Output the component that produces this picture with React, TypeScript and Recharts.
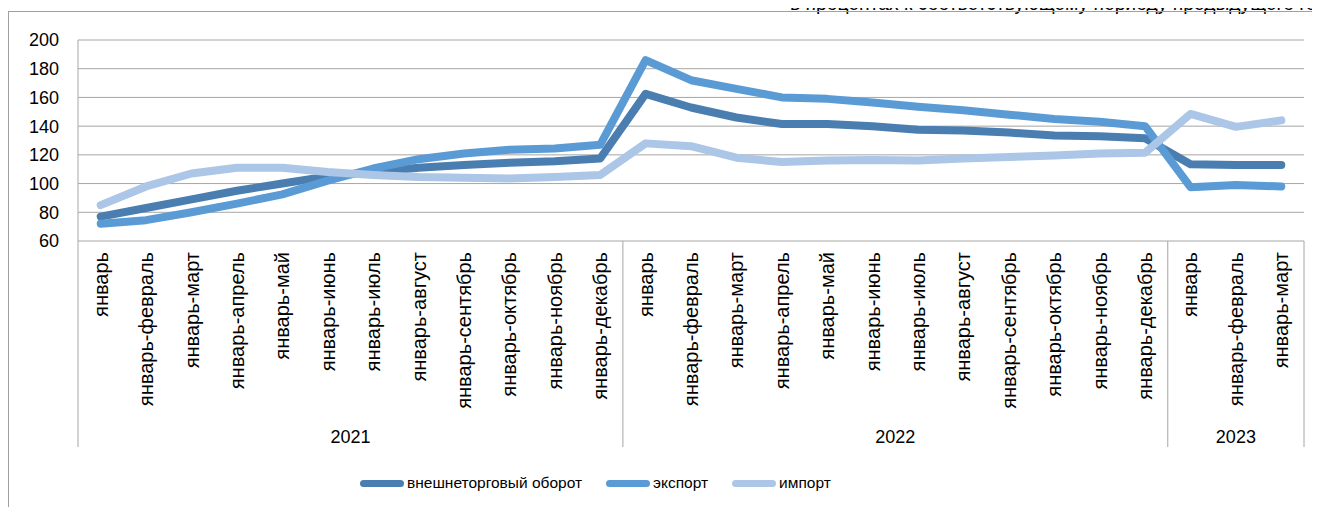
import React from "react";
import { LineChart, Line, XAxis, YAxis, CartesianGrid, Legend } from "recharts";

const MONTHS_2021 = [
  "январь", "январь-февраль", "январь-март", "январь-апрель", "январь-май", "январь-июнь",
  "январь-июль", "январь-август", "январь-сентябрь", "январь-октябрь", "январь-ноябрь", "январь-декабрь",
];
const MONTHS_2022 = [
  "январь", "январь-февраль", "январь-март", "январь-апрель", "январь-май", "январь-июнь",
  "январь-июль", "январь-август", "январь-сентябрь", "январь-октябрь", "январь-ноябрь", "январь-декабрь",
];
const MONTHS_2023 = ["январь", "январь-февраль", "январь-март"];
const YEARS = ["2021", "2022", "2023"];

const TURNOVER = [
  77, 83, 89, 95, 100, 105, 108, 111, 113, 114.5, 115.5, 117.5,
  162.5, 153, 146, 141.5, 141.5, 140, 137.5, 137, 135.5, 133.5, 133, 131.5,
  113.5, 113, 113,
];
const EXPORT = [
  72, 74.5, 80, 86, 92.5, 102, 110.5, 117, 121, 123.5, 124.5, 127,
  186, 172, 166, 160, 159, 156.5, 153.5, 151, 148, 145, 143, 140,
  97.5, 99, 98,
];
const IMPORT = [
  85, 98, 107, 111, 111, 108, 106, 104.5, 104, 103.5, 104.5, 106,
  128, 126, 118, 115, 116, 116.5, 116, 117.5, 118.5, 119.5, 121, 121.5,
  148.5, 139.5, 144,
];
const Y_TICKS = [60, 80, 100, 120, 140, 160, 180, 200];

const SERIES = [
  { key: "turnover", name: "внешнеторговый оборот", color: "#4a7eb0" },
  { key: "export", name: "экспорт", color: "#5b9bd5" },
  { key: "import", name: "импорт", color: "#abc6e6" },
] as const;

const GROUPS = [
  { year: YEARS[0], months: MONTHS_2021 },
  { year: YEARS[1], months: MONTHS_2022 },
  { year: YEARS[2], months: MONTHS_2023 },
];

const rows: any[] = [];
GROUPS.forEach((g) => {
  g.months.forEach((m) => {
    const i = rows.length;
    rows.push({
      id: `${g.year}-${i}`,
      label: m,
      turnover: TURNOVER[i],
      export: EXPORT[i],
      import: IMPORT[i],
    });
  });
});

// first index of every year group
const groupStarts: number[] = [];
let acc = 0;
GROUPS.forEach((g) => {
  groupStarts.push(acc);
  acc += g.months.length;
});

const AXIS_COLOR = "#a6a6a6";
const FONT = "'Liberation Sans', Arial, sans-serif";
const TICK_GAP = 11;
const PLOT_W = 1226;
const BAND = PLOT_W / rows.length;

function CategoryTick(props: any) {
  const { x, y, index } = props;
  const top = y - TICK_GAP;
  const g = groupStarts.indexOf(index);
  const isLast = index === rows.length - 1;
  return (
    <g>
      <text
        x={x}
        y={y}
        transform={`rotate(-90 ${x} ${y})`}
        textAnchor="end"
        dominantBaseline="central"
        fontSize={20}
        fill="#000"
        fontFamily={FONT}
      >
        {rows[index]?.label}
      </text>
      {g >= 0 && (
        <>
          <line x1={x - BAND / 2} x2={x - BAND / 2} y1={top} y2={top + 206} stroke={AXIS_COLOR} />
          <text
            x={x - BAND / 2 + (GROUPS[g].months.length * BAND) / 2}
            y={top + 196}
            textAnchor="middle"
            dominantBaseline="central"
            fontSize={18}
            fill="#000"
            fontFamily={FONT}
          >
            {GROUPS[g].year}
          </text>
        </>
      )}
      {isLast && (
        <line x1={x + BAND / 2} x2={x + BAND / 2} y1={top} y2={top + 206} stroke={AXIS_COLOR} />
      )}
    </g>
  );
}

function LegendContent() {
  return (
    <div style={{ display: "flex", alignItems: "center", fontFamily: FONT, fontSize: 15.5, color: "#000" }}>
      {SERIES.map((s) => (
        <div key={s.key} style={{ display: "flex", alignItems: "center", marginRight: 24 }}>
          <span
            style={{
              display: "inline-block",
              width: 44,
              height: 7,
              borderRadius: 4,
              background: s.color,
              marginRight: 3,
            }}
          />
          <span>{s.name}</span>
        </div>
      ))}
    </div>
  );
}

export default function App() {
  return (
    <div
      style={{
        position: "relative",
        margin: -8,
        width: 1320,
        height: 515,
        overflow: "hidden",
        background: "#fff",
        fontFamily: FONT,
      }}
    >
      <div
        style={{
          position: "absolute",
          left: 790,
          top: -6,
          fontSize: 19.3,
          lineHeight: "20px",
          whiteSpace: "nowrap",
          color: "#000",
        }}
      >
        в процентах к соответствующему периоду предыдущего года
      </div>
      <div
        style={{
          position: "absolute",
          left: 8,
          top: 11,
          width: 1400,
          height: 600,
          border: "1px solid #a0a0a0",
        }}
      />
      <div style={{ position: "absolute", left: 0, top: 0 }}>
        <LineChart
          width={1320}
          height={515}
          data={rows}
          margin={{ top: 40, right: 16, left: 8, bottom: 68 }}
        >
          <CartesianGrid vertical={false} stroke={AXIS_COLOR} />
          <XAxis
            dataKey="id"
            interval={0}
            height={206}
            padding={{ left: BAND / 2, right: BAND / 2 }}
            axisLine={false}
            tickLine={false}
            tickSize={0}
            tickMargin={TICK_GAP}
            tick={<CategoryTick />}
          />
          <YAxis
            domain={[60, 200]}
            ticks={Y_TICKS}
            interval={0}
            width={70}
            tickLine={false}
            tickSize={0}
            tickMargin={19}
            axisLine={{ stroke: AXIS_COLOR }}
            tick={{ fill: "#000", fontSize: 18, fontFamily: FONT }}
          />
          <Legend
            verticalAlign="middle"
            layout="horizontal"
            content={<LegendContent />}
            wrapperStyle={{ top: 474, left: 360, width: 600 }}
          />
          {SERIES.map((s) => (
            <Line
              key={s.key}
              type="linear"
              dataKey={s.key}
              name={s.name}
              stroke={s.color}
              strokeWidth={8}
              strokeLinecap="round"
              strokeLinejoin="round"
              dot={false}
              activeDot={false}
              isAnimationActive={false}
            />
          ))}
        </LineChart>
      </div>
    </div>
  );
}
